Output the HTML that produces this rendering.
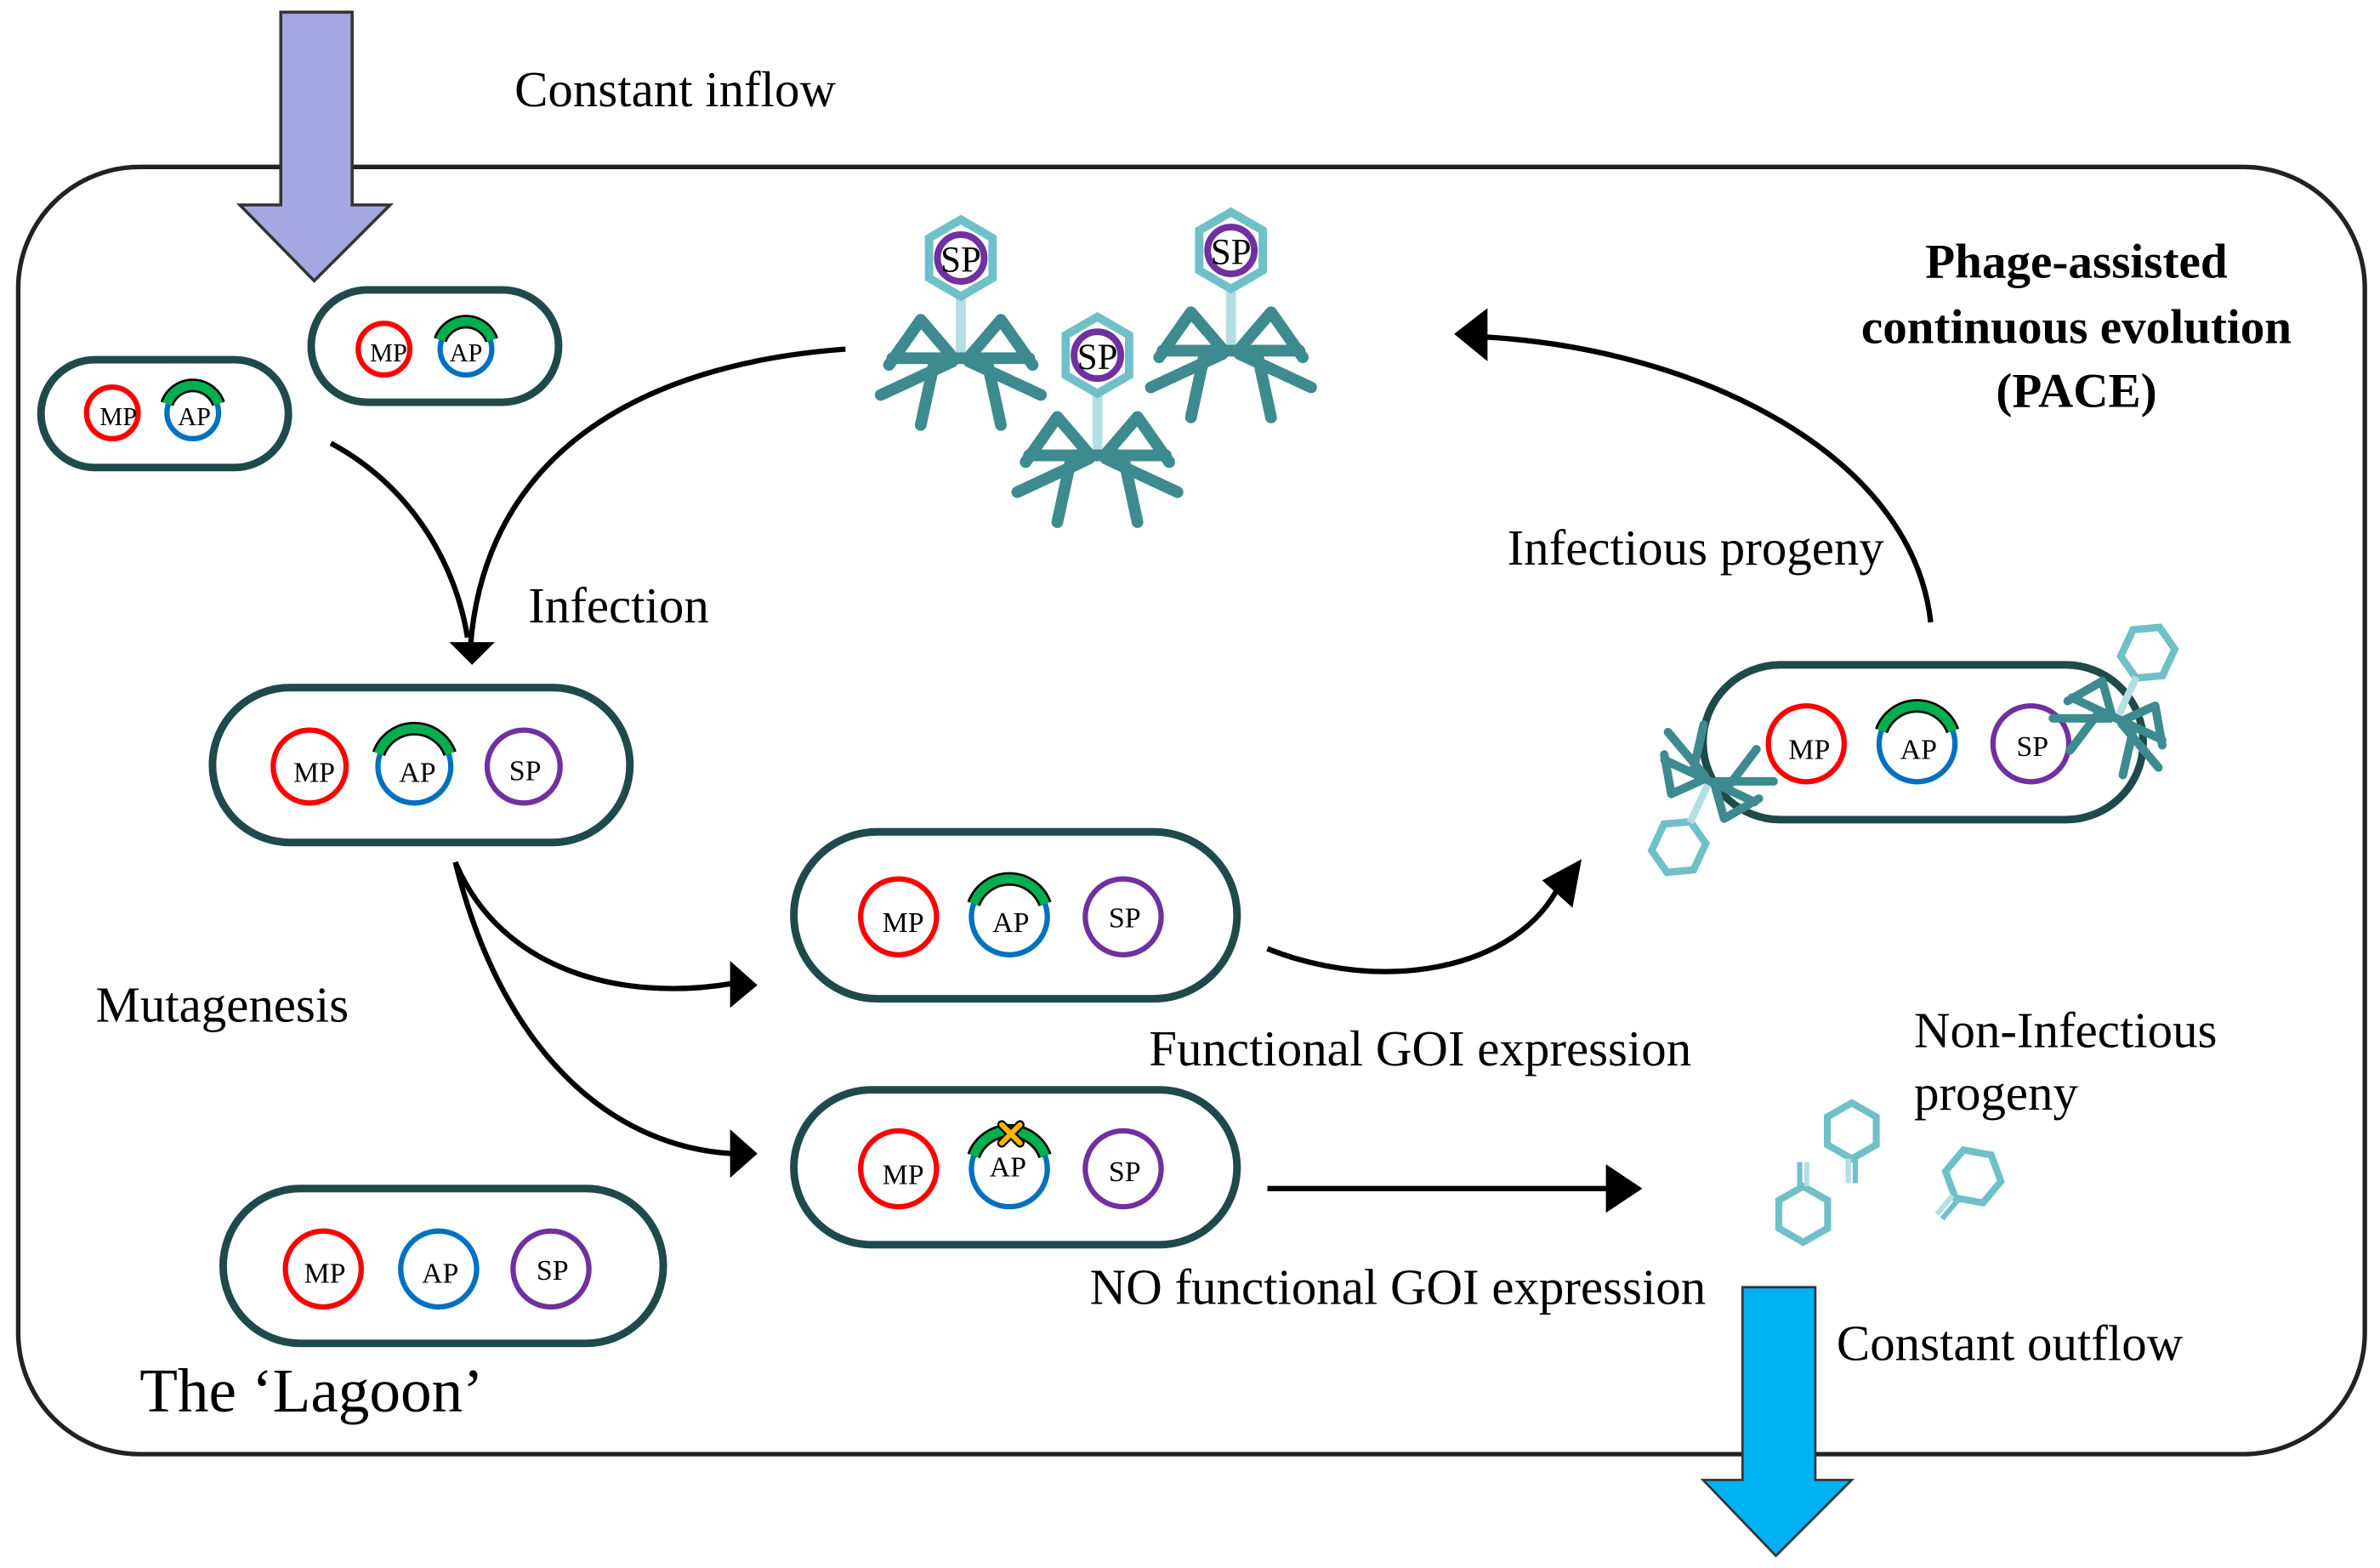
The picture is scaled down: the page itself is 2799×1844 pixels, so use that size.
<!DOCTYPE html>
<html><head><meta charset="utf-8"><style>
html,body{margin:0;padding:0;background:#fff;}
svg{display:block;}
text{font-family:"Liberation Serif",serif;fill:#000;}
</style></head><body>
<svg width="2799" height="1844" viewBox="0 0 1568 1033" preserveAspectRatio="none" xmlns="http://www.w3.org/2000/svg">
<defs>
<g id="legs" fill="none" stroke="#3d8a8f" stroke-width="7" stroke-linecap="round" stroke-linejoin="round">
<polyline points="-6,58 -24,37 -43,64"/><line x1="-41" y1="60" x2="0" y2="60"/>
<line x1="-5" y1="62" x2="-48" y2="82"/><line x1="-16" y1="63" x2="-24" y2="100"/>
<polyline points="6,58 24,37 43,64"/><line x1="41" y1="60" x2="0" y2="60"/>
<line x1="5" y1="62" x2="48" y2="82"/><line x1="16" y1="63" x2="24" y2="100"/>
</g>
<g id="phage">
<rect x="-3" y="22" width="6" height="40" fill="#b3dfe2"/>
<use href="#legs"/>
<polygon points="0,-23 19,-12 19,12 0,23 -19,12 -19,-12" fill="#fff" stroke="#6fc0c8" stroke-width="5"/>
<circle r="14" fill="#fff" stroke="#7030a0" stroke-width="4"/>
</g>
<g id="ni">
<polygon points="0,-16 14,-8 14,8 0,16 -14,8 -14,-8" fill="none" stroke="#6fc0c8" stroke-width="4"/>
<line x1="-2" y1="16" x2="-2" y2="30" stroke="#b3dfe2" stroke-width="3"/>
<line x1="2" y1="16" x2="2" y2="30" stroke="#6fc0c8" stroke-width="3"/>
</g>
</defs>

<rect x="12" y="110" width="1546" height="848" rx="80" fill="none" stroke="#222" stroke-width="3"/>

<polygon points="185,8 232,8 232,135 257,135 207,185 158,135 185,135" fill="#a6a6e0" stroke="#333" stroke-width="2"/>
<polygon points="1148,848 1196,848 1196,975 1220,975 1170,1025 1122,975 1148,975" fill="#00b0f0" stroke="#333" stroke-width="1.5"/>

<g fill="#fff" stroke="#1f4a4a" stroke-width="5">
<rect x="27" y="237" width="163" height="71" rx="35.5"/>
<rect x="205" y="191" width="163" height="74" rx="37"/>
<rect x="140" y="453" width="275" height="102" rx="51"/>
<rect x="523" y="548" width="292" height="110" rx="55"/>
<rect x="523" y="718" width="292" height="102" rx="51"/>
<rect x="147" y="783" width="290" height="102" rx="51"/>
<rect x="1122" y="438" width="290" height="102" rx="51"/>
</g>

<g fill="none" stroke-width="3.5">
<circle cx="74" cy="272" r="17" stroke="#ff0000"/>
<circle cx="127" cy="272" r="17" stroke="#0070c0"/>
<circle cx="253" cy="230" r="17" stroke="#ff0000"/>
<circle cx="307" cy="230" r="17" stroke="#0070c0"/>
<circle cx="204" cy="505" r="24" stroke="#ff0000"/>
<circle cx="273" cy="505" r="24" stroke="#0070c0"/>
<circle cx="345" cy="505" r="24" stroke="#7030a0"/>
<circle cx="592" cy="604" r="25" stroke="#ff0000"/>
<circle cx="665" cy="604" r="25" stroke="#0070c0"/>
<circle cx="740" cy="604" r="25" stroke="#7030a0"/>
<circle cx="592" cy="770" r="25" stroke="#ff0000"/>
<circle cx="665" cy="770" r="25" stroke="#0070c0"/>
<circle cx="740" cy="770" r="25" stroke="#7030a0"/>
<circle cx="213" cy="836" r="25" stroke="#ff0000"/>
<circle cx="289" cy="836" r="25" stroke="#0070c0"/>
<circle cx="363" cy="836" r="25" stroke="#7030a0"/>
<circle cx="1190" cy="490" r="25" stroke="#ff0000"/>
<circle cx="1263" cy="490" r="25" stroke="#0070c0"/>
<circle cx="1338" cy="490" r="25" stroke="#7030a0"/>
</g>
<g fill="none">
<g stroke="#000" stroke-width="9">
<path d="M110 266 A18 18 0 0 1 144 266"/>
<path d="M290 224 A18 18 0 0 1 324 224"/>
<path d="M249.5 496.5 A25 25 0 0 1 296.5 496.5"/>
<path d="M641.5 595.5 A25 25 0 0 1 688.5 595.5"/>
<path d="M641.5 761.5 A25 25 0 0 1 688.5 761.5"/>
<path d="M1239.5 481.5 A25 25 0 0 1 1286.5 481.5"/>
</g>
<g stroke="#00b050" stroke-width="6">
<path d="M110 266 A18 18 0 0 1 144 266"/>
<path d="M290 224 A18 18 0 0 1 324 224"/>
<path d="M249.5 496.5 A25 25 0 0 1 296.5 496.5"/>
<path d="M641.5 595.5 A25 25 0 0 1 688.5 595.5"/>
<path d="M641.5 761.5 A25 25 0 0 1 688.5 761.5"/>
<path d="M1239.5 481.5 A25 25 0 0 1 1286.5 481.5"/>
</g>
</g>
<g stroke="#000" stroke-width="6" stroke-linecap="round"><line x1="660" y1="741" x2="672" y2="753"/><line x1="672" y1="741" x2="660" y2="753"/></g>
<g stroke="#f5b800" stroke-width="3.5" stroke-linecap="round"><line x1="660" y1="741" x2="672" y2="753"/><line x1="672" y1="741" x2="660" y2="753"/></g>

<g font-size="17" text-anchor="middle">
<text x="78" y="280">MP</text><text x="128" y="280">AP</text>
<text x="256" y="238">MP</text><text x="307" y="238">AP</text>
</g>
<g font-size="19" text-anchor="middle">
<text x="207" y="515">MP</text><text x="275" y="515">AP</text><text x="346" y="514">SP</text>
<text x="595" y="614">MP</text><text x="666" y="614">AP</text><text x="741" y="611">SP</text>
<text x="595" y="780">MP</text><text x="664" y="775">AP</text><text x="741" y="778">SP</text>
<text x="214" y="845">MP</text><text x="290" y="845">AP</text><text x="364" y="843">SP</text>
<text x="1192" y="500">MP</text><text x="1264" y="500">AP</text><text x="1339" y="498">SP</text>
</g>

<use href="#phage" transform="translate(633,170) scale(1.1)"/>
<use href="#phage" transform="translate(811,165) scale(1.1)"/>
<use href="#phage" transform="translate(723,234) scale(1.1)"/>
<g font-size="24" text-anchor="middle">
<text x="633" y="179">SP</text><text x="811" y="174">SP</text><text x="723" y="243">SP</text>
</g>

<g transform="translate(1415,430) rotate(25) scale(0.8)">
<polygon points="0,-23 19,-12 19,12 0,23 -19,12 -19,-12" fill="none" stroke="#6fc0c8" stroke-width="6"/>
<rect x="-3" y="22" width="6" height="40" fill="#b3dfe2"/>
<use href="#legs"/>
</g>
<g transform="translate(1106,558) rotate(205) scale(0.8)">
<polygon points="0,-23 19,-12 19,12 0,23 -19,12 -19,-12" fill="none" stroke="#6fc0c8" stroke-width="6"/>
<rect x="-3" y="22" width="6" height="40" fill="#b3dfe2"/>
<use href="#legs"/>
</g>

<use href="#ni" transform="translate(1220,745) scale(1.15)"/>
<use href="#ni" transform="translate(1300,775) rotate(40) scale(1.15)"/>
<use href="#ni" transform="translate(1188,800) rotate(180) scale(1.15)"/>

<g fill="none" stroke="#000" stroke-width="3.5">
<path d="M557 230 C420 240 320 300 310 425"/>
<path d="M218 292 C270 320 300 370 308 420"/>
<path d="M1272 410 C1260 300 1120 230 978 222"/>
<path d="M300 568 C330 640 410 660 482 648"/>
<path d="M300 568 C330 690 400 755 482 760"/>
<path d="M835 625 C910 655 1000 640 1028 582"/>
<line x1="835" y1="783" x2="1062" y2="783"/>
</g>
<g fill="#000">
<polygon points="296,423 326,423 311,438"/>
<polygon points="958,220 980,203 980,238"/>
<polygon points="481,633 499,649 481,664"/>
<polygon points="481,744 499,760 481,776"/>
<polygon points="1016,580 1042,566 1036,598"/>
<polygon points="1058,767 1082,783 1058,799"/>
</g>

<g font-size="33">
<text x="339" y="70">Constant inflow</text>
<text x="348" y="410">Infection</text>
<text x="63" y="673">Mutagenesis</text>
<text x="993" y="372">Infectious progeny</text>
<text x="757" y="702">Functional GOI expression</text>
<text x="1261" y="690">Non-Infectious</text>
<text x="1261" y="731">progeny</text>
<text x="718" y="859">NO functional GOI expression</text>
<text x="1210" y="896">Constant outflow</text>
</g>
<text x="92" y="930" font-size="41">The ‘Lagoon’</text>
<g font-size="32" font-weight="bold" text-anchor="middle">
<text x="1368" y="183">Phage-assisted</text>
<text x="1368" y="226">continuous evolution</text>
<text x="1368" y="268">(PACE)</text>
</g>
</svg>
</body></html>
